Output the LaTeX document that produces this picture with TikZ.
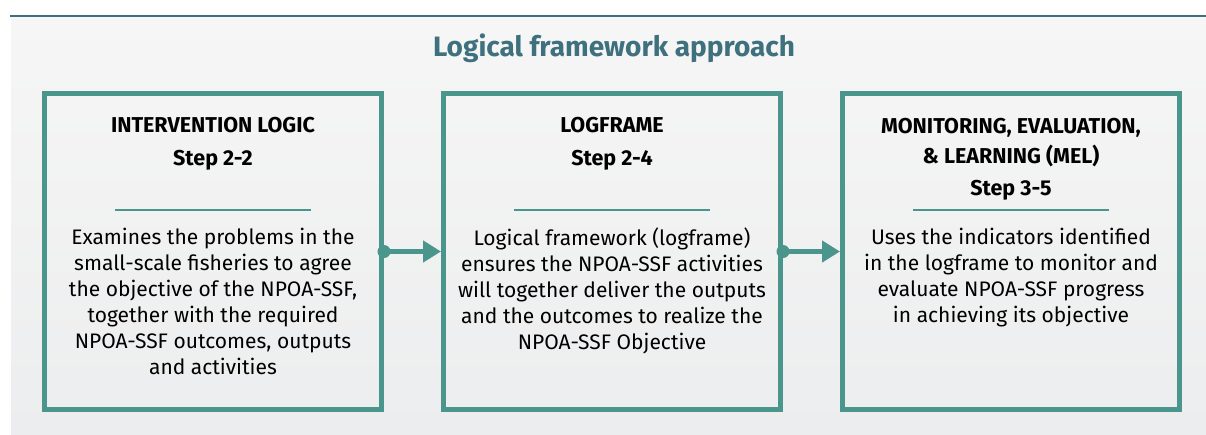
\documentclass[tikz,border=0pt]{standalone}
\usepackage{fontspec}
\setmainfont{Fira Sans}
\usetikzlibrary{positioning, arrows.meta, calc}
\definecolor{cTeal}{RGB}{74,150,140}
\definecolor{cTitle}{RGB}{62,112,126}
\definecolor{cPanelTop}{RGB}{246,246,246}
\definecolor{cPanelBot}{RGB}{236,237,238}
\tikzset{
	panel/.style   ={rectangle, draw=cTeal, line width=5pt, minimum width=337pt, minimum height=316pt, inner sep=0pt},
	headtxt/.style ={font=\fontsize{21.5}{30}\selectfont\bfseries, align=center, inner sep=0pt, anchor=base},
	bodytxt/.style ={font=\fontsize{21}{26}\selectfont, align=center, inner sep=0pt, anchor=north},
	sep/.style     ={draw=cTeal, line width=2.5pt},
	link/.style    ={draw=cTeal, line width=5pt, -{Triangle[length=18pt, width=21pt]}},
}

\begin{document}
\begin{tikzpicture}[x=1pt, y=-1pt, node distance=57pt]
	\useasboundingbox (0,0) rectangle (1206,434);
	% background panel and top rule
	\shade[top color=cPanelTop, bottom color=cPanelBot] (11,17) rectangle (1206,434);
	\draw[cTitle, line width=2pt] (10,16) -- (1206,16);
	\node[font=\fontsize{28}{32}\selectfont\bfseries, text=cTitle, anchor=base] (title) at (614,56) {Logical framework approach};

	% the three steps
	\node[panel] (il) at (213,251.5) {};
	\node[panel, right=of il] (lf) {};
	\node[panel, right=of lf] (mel) {};

	\node[headtxt] (ilh) at ($(il.north)+(0,41)$) {INTERVENTION LOGIC};
	\node[headtxt] (ils) at ($(il.north)+(0,74)$) {Step 2-2};
	\node[headtxt] (lfh) at ($(lf.north)+(0,41)$) {LOGFRAME};
	\node[headtxt] (lfs) at ($(lf.north)+(0,74)$) {Step 2-4};
	\node[headtxt] (melh) at ($(mel.north)+(0,72)$) {MONITORING, EVALUATION,\\ \& LEARNING (MEL)};
	\node[headtxt] (mels) at ($(mel.north)+(0,104)$) {Step 3-5};

	\foreach \b in {il, lf, mel}
		\draw[sep] ($(\b.north)+(-98,119)$) -- ($(\b.north)+(98,119)$);

	\node[bodytxt] (ilb) at ($(il.north)+(0,137)$) {Examines the problems in the\\ small-scale fisheries to agree\\ the objective of the NPOA-SSF,\\ together with the required\\ NPOA-SSF outcomes, outputs\\ and activities};
	\node[bodytxt] (lfb) at ($(lf.north)+(0,137)$) {Logical framework (logframe)\\ ensures the NPOA-SSF activities\\ will together deliver the outputs\\ and the outcomes to realize the\\ NPOA-SSF Objective};
	\node[bodytxt] (melb) at ($(mel.north)+(0,137)$) {Uses the indicators identified\\ in the logframe to monitor and\\ evaluate NPOA-SSF progress\\ in achieving its objective};

	% connectors
	\draw[link] (il.east) -- (lf.west);
	\draw[link] (lf.east) -- (mel.west);
	\fill[cTeal] (il.east) circle (6.5pt) (lf.east) circle (6.5pt);
\end{tikzpicture}
\end{document}
